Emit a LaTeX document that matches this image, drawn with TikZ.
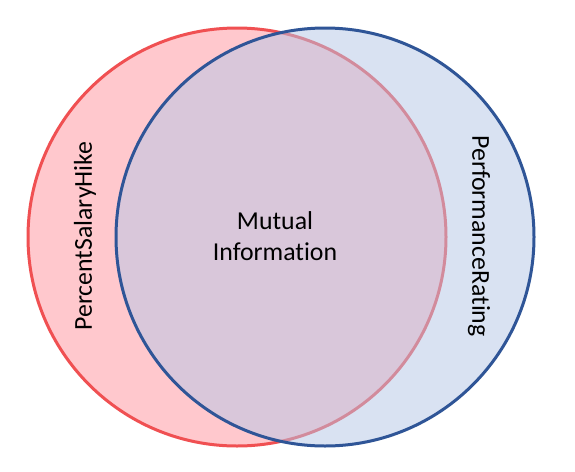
\documentclass[tikz,border=0pt]{standalone}
\usepackage{fontspec}
\setmainfont[Ligatures=NoCommon]{Carlito}
\definecolor{redfill}{RGB}{255,200,205}
\definecolor{redline}{RGB}{240,80,82}
\definecolor{bluefill}{RGB}{181,199,231}
\definecolor{blueline}{RGB}{47,85,151}
\tikzset{
  lbl/.style={font=\fontsize{25.8}{31}\selectfont, text=black, align=center, inner sep=0pt},
  redset/.style={draw=redline, line width=3pt, fill=redfill},
  blueset/.style={draw=blueline, line width=3pt, fill=bluefill, fill opacity=0.5, draw opacity=1}
}
\begin{document}
\begin{tikzpicture}[x=1pt,y=-1pt]
\useasboundingbox (0,0) rectangle (575,471);
\fill[white] (0,0) rectangle (575,471);
\node[redset, circle, minimum size=418pt, inner sep=0pt] (red) at (237,237) {};
\node[blueset, circle, minimum size=418pt, inner sep=0pt] (blue) at (325,237) {};
\node[lbl] (mi) at (275,236) {Mutual\\Informat\kern0pt ion};
\node[lbl, rotate=90] (psh) at (85,236) {PercentSalaryHike};
\node[lbl, rotate=-90] (pr) at (479,236) {PerformanceRat\kern0pt ing};
\end{tikzpicture}
\end{document}
